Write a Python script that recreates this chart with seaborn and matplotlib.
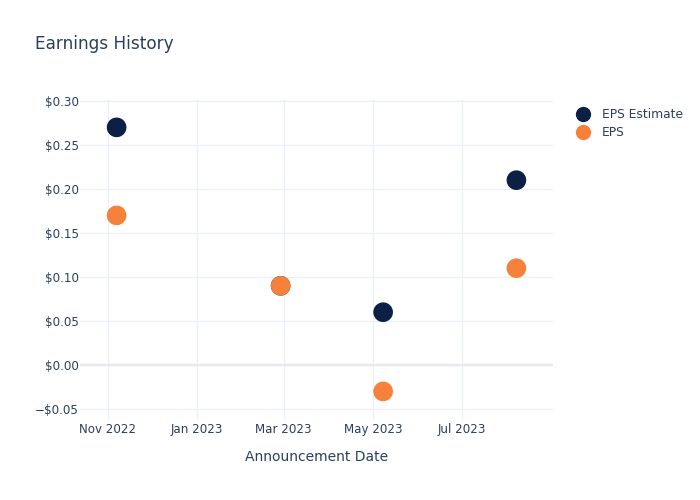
import matplotlib
matplotlib.use("Agg")
import matplotlib.pyplot as plt
from matplotlib.lines import Line2D
import seaborn as sns
import pandas as pd

dates = ["2022-11-07", "2023-02-27", "2023-05-08", "2023-08-07"]
eps_estimate = [0.27, 0.09, 0.06, 0.21]
eps_actual = [0.17, 0.09, -0.03, 0.11]
series_names = ["EPS Estimate", "EPS"]
colors = ["#0c1f45", "#f5813a"]
y_ticks = [-0.05, 0.0, 0.05, 0.10, 0.15, 0.20, 0.25, 0.30]
x_ticks = ["2022-11-01", "2023-01-01", "2023-03-01", "2023-05-01", "2023-07-01"]
x_tick_labels = ["Nov 2022", "Jan 2023", "Mar 2023", "May 2023", "Jul 2023"]

df = pd.DataFrame({
    "date": pd.to_datetime(dates * 2),
    "value": eps_estimate + eps_actual,
    "series": [series_names[0]] * len(dates) + [series_names[1]] * len(dates),
})

sns.set_style("white")
plt.rcParams["font.family"] = ["DejaVu Sans"]
text_color = "#2a3f5f"

fig = plt.figure(figsize=(7, 5), dpi=100)
ax = fig.add_axes([80 / 700, 80 / 500, 473 / 700, 320 / 500])

sns.scatterplot(data=df, x="date", y="value", hue="series", hue_order=series_names,
                palette=colors, s=200, edgecolor="none", legend=False, ax=ax, zorder=3)

ax.set_xlim(pd.Timestamp("2022-10-13"), pd.Timestamp("2023-09-01"))
ax.set_ylim(-0.0625, 0.3011)
ax.set_xticks(pd.to_datetime(x_ticks))
ax.set_xticklabels(x_tick_labels)
ax.set_yticks(y_ticks)

def fmt(v):
    if abs(v) < 1e-9:
        return "$0.00"
    s = f"${abs(v):.2f}"
    return ("\u2212" + s) if v < 0 else s

ax.set_yticklabels([fmt(v) for v in y_ticks])
ax.tick_params(axis="x", length=0, labelsize=8.6, colors=text_color, pad=2)
ax.tick_params(axis="y", length=0, labelsize=8.6, colors=text_color, pad=1)

for sp in ax.spines.values():
    sp.set_visible(False)
ax.grid(True, color="#ebf0f8", linewidth=1)
ax.axhline(0, color="#e4e9f1", linewidth=1.6, zorder=1)
ax.set_axisbelow(True)

ax.set_xlabel("Announcement Date", fontsize=10, color=text_color, labelpad=10.5)
ax.set_ylabel("")

fig.text(35 / 700, 1 - 44 / 500, "Earnings History", fontsize=12.2, color=text_color, va="center")

handles = [Line2D([0], [0], marker="o", linestyle="none", markersize=11,
                  markerfacecolor=c, markeredgecolor="none") for c in colors]
fig.legend(handles, series_names, loc="upper left", bbox_to_anchor=(571 / 700, 1 - 103 / 500),
           frameon=False, fontsize=8.8, labelcolor=text_color, handletextpad=0.9,
           labelspacing=0.4, borderaxespad=0, handlelength=1.2)

fig.savefig("out.png", dpi=100)
